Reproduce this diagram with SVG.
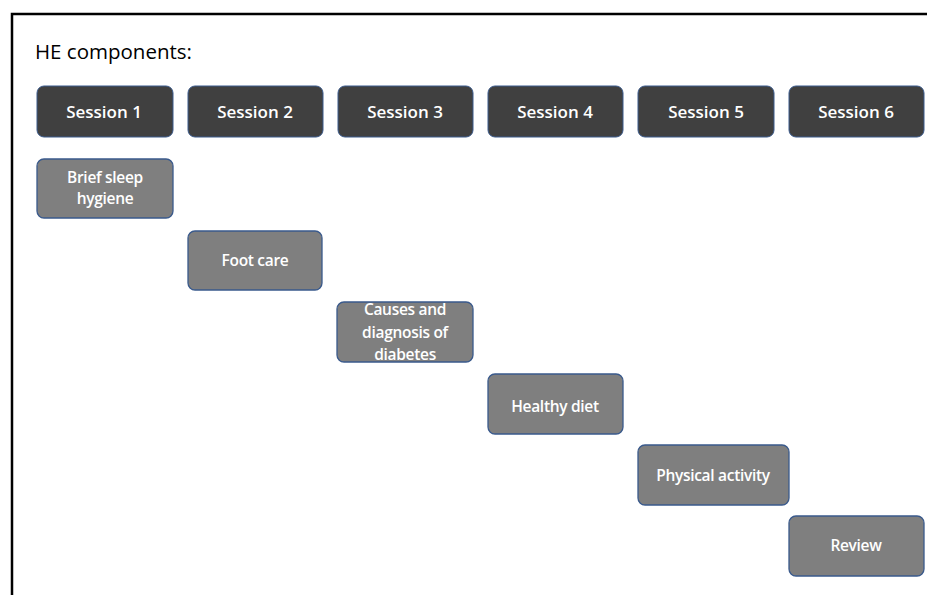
<svg xmlns="http://www.w3.org/2000/svg" width="927" height="595" viewBox="0 0 927 595">
<style>
.sess rect{fill:#404040;stroke:#3A5A8C;stroke-width:1}
.sub rect{fill:#7F7F7F;stroke:#3A5A8C;stroke-width:1.3}
text{font-family:"Open Sans","Liberation Sans",sans-serif;fill:#fff;text-anchor:middle}
.sess text{font-size:17px;font-weight:600}
.sub text{font-size:15.5px;font-weight:600;letter-spacing:-0.3px}
.title{fill:#000;text-anchor:start;font-size:20.5px}
</style>
<rect width="927" height="595" fill="#fff"/>
<path d="M12 595 V14 H927" fill="none" stroke="#000" stroke-width="2.5"/>
<text class="title" x="35" y="59">HE components:</text>
<g id="session1" class="sess"><rect x="37" y="86" width="136" height="51" rx="7"/><text x="104" y="118">Session 1</text></g>
<g id="session2" class="sess"><rect x="188" y="86" width="135" height="51" rx="7"/><text x="255" y="118">Session 2</text></g>
<g id="session3" class="sess"><rect x="338" y="86" width="135" height="51" rx="7"/><text x="405" y="118">Session 3</text></g>
<g id="session4" class="sess"><rect x="488" y="86" width="135" height="51" rx="7"/><text x="555" y="118">Session 4</text></g>
<g id="session5" class="sess"><rect x="638" y="86" width="136" height="51" rx="7"/><text x="706" y="118">Session 5</text></g>
<g id="session6" class="sess"><rect x="789" y="86" width="135" height="51" rx="7"/><text x="856" y="118">Session 6</text></g>
<g id="sleep" class="sub"><rect x="37" y="159" width="136" height="59" rx="7"/><text x="105" y="183">Brief sleep</text><text x="105" y="204">hygiene</text></g>
<g id="foot" class="sub"><rect x="188" y="231" width="134" height="59" rx="7"/><text x="255" y="266">Foot care</text></g>
<g id="causes" class="sub"><rect x="337" y="302" width="136" height="60" rx="7"/><text x="405" y="315">Causes and</text><text x="405" y="338">diagnosis of</text><text x="405" y="360">diabetes</text></g>
<g id="diet" class="sub"><rect x="488" y="374" width="135" height="60" rx="7"/><text x="555" y="412">Healthy diet</text></g>
<g id="physical" class="sub"><rect x="638" y="445" width="151" height="60" rx="7"/><text x="713" y="481">Physical activity</text></g>
<g id="review" class="sub"><rect x="789" y="516" width="135" height="60" rx="7"/><text x="856" y="551">Review</text></g>
</svg>
